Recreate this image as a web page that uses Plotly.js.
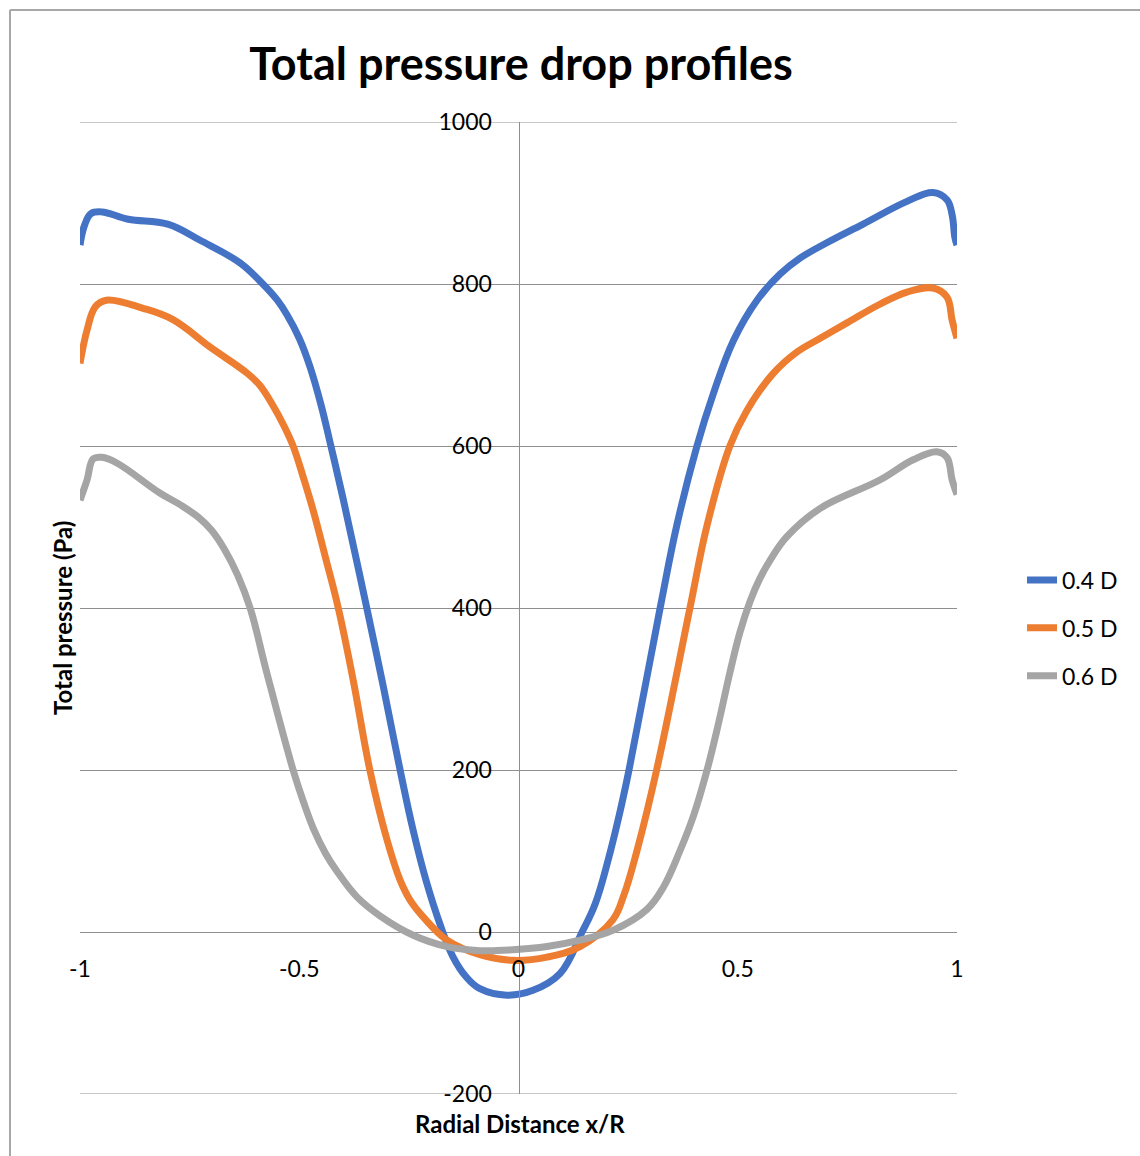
<!DOCTYPE html>
<html>
<head>
<meta charset="utf-8">
<script src="https://cdn.plot.ly/plotly-3.0.1.min.js"></script>
<style>
  html, body { margin: 0; padding: 0; background: #ffffff; }
  #chart { width: 1140px; height: 1156px; }
</style>
</head>
<body>
<div id="chart"></div>
<script>
// Total pressure across the radius at three downstream stations
const seriesNames = ['0.4 D', '0.5 D', '0.6 D'];
const seriesColors = ['#4472C4', '#ED7D31', '#A5A5A5'];

// 0.4 D
const x04 = [-1.0, -0.99, -0.975, -0.95, -0.89, -0.80, -0.726, -0.635, -0.583, -0.55, -0.528, -0.50, -0.475,
  -0.45, -0.43, -0.40, -0.346, -0.309, -0.27, -0.24, -0.21, -0.178, -0.15, -0.12, -0.088, -0.026, 0.033,
  0.095, 0.145, 0.175, 0.205, 0.23, 0.252, 0.323, 0.361, 0.407, 0.444, 0.49, 0.544, 0.596, 0.642, 0.70,
  0.786, 0.886, 0.945, 0.977, 0.989, 0.995, 1.0];
const p04 = [848, 872, 887, 889, 880, 874, 854, 826, 800, 780, 762, 733, 697,
  650, 605, 535, 400, 305, 200, 125, 62, 8, -30, -55, -70, -78, -72,
  -51, 0, 35, 90, 145, 200, 400, 502, 600, 664, 730, 780, 812, 832, 850,
  874, 902, 913, 904, 885, 858, 848];

// 0.5 D
const x05 = [-1.0, -0.984, -0.965, -0.94, -0.856, -0.788, -0.703, -0.619, -0.59, -0.56, -0.535, -0.514,
  -0.49, -0.468, -0.44, -0.411, -0.377, -0.339, -0.30, -0.27, -0.248, -0.218, -0.163, -0.088, -0.013, 0.065,
  0.14, 0.215, 0.24, 0.27, 0.315, 0.391, 0.43, 0.482, 0.52, 0.58, 0.635, 0.688, 0.749, 0.824, 0.886,
  0.945, 0.977, 0.989, 1.0];
const p05 = [702, 743, 772, 780, 770, 756, 722, 690, 675, 650, 625, 600,
  560, 520, 462, 400, 311, 200, 114, 64, 40, 19, -10, -28, -35, -31,
  -18, 15, 45, 100, 200, 400, 502, 600, 643, 689, 716, 733, 752, 775, 790,
  795, 784, 755, 733];

// 0.6 D
const x06 = [-1.0, -0.984, -0.97, -0.95, -0.916, -0.818, -0.77, -0.73, -0.70, -0.67, -0.64, -0.612, -0.574,
  -0.514, -0.49, -0.468, -0.44, -0.414, -0.368, -0.316, -0.24, -0.163, -0.088, -0.013, 0.065, 0.14, 0.215,
  0.293, 0.33, 0.368, 0.40, 0.43, 0.455, 0.482, 0.505, 0.528, 0.55, 0.575, 0.612, 0.688, 0.824, 0.90,
  0.954, 0.977, 0.989, 1.0];
const p06 = [533, 558, 584, 586, 579, 542, 527, 512, 496, 472, 440, 400, 320,
  200, 160, 128, 97, 75, 43, 20, -4, -18, -23, -22, -18, -10, 2,
  28, 55, 100, 145, 200, 255, 320, 370, 408, 436, 460, 488, 523, 558, 583,
  593, 586, 558, 540];

const xTickVals = [-1, -0.5, 0, 0.5, 1];
const xTickText = ['-1', '-0.5', '0', '0.5', '1'];
const yTickVals = [-200, 0, 200, 400, 600, 800, 1000];
const yTickText = ['-200', '0', '200', '400', '600', '800', '1000'];

const xRange = [-1, 1];
const yRange = [-200, 1000];

const xs = [x04, x05, x06];
const ps = [p04, p05, p06];

const FONT = 'Lato, "Open Sans", sans-serif';
const GRID = '#8f8f8f';
const FRAME = '#a8a8a8';

const traces = seriesNames.map((name, i) => ({
  type: 'scatter',
  mode: 'lines',
  name: name,
  legendgroup: name,
  x: xs[i],
  y: ps[i],
  line: { color: seriesColors[i], width: 7, shape: 'spline', smoothing: 1.1 },
  hoverinfo: 'x+y+name'
}));

// Plot area in pixels, used to place the frame and the axis titles
const M = { l: 80, r: 183, t: 122, b: 62 };
const W = 1140, H = 1156;
const PW = W - M.l - M.r, PH = H - M.t - M.b;
const px2x = (px) => (px - M.l) / PW;
const px2y = (py) => (H - M.b - py) / PH;

// grid lines at the two ends of the value range (the axis leaves them out)
const edgeGrid = [yRange[0], yRange[1]].map(v => ({
  type: 'line', xref: 'paper', yref: 'y', layer: 'below',
  x0: 0, x1: 1, y0: v, y1: v,
  line: { color: GRID, width: 1 }
}));

const layout = {
  width: W,
  height: H,
  autosize: false,
  margin: { l: M.l, r: M.r, t: M.t, b: M.b, pad: 0 },
  paper_bgcolor: '#ffffff',
  plot_bgcolor: '#ffffff',
  font: { family: FONT, size: 23, color: '#000000' },
  title: {
    text: 'Total pressure drop profiles',
    font: { family: FONT, size: 45, weight: 'bold', color: '#000000' },
    xref: 'container', x: 521 / W, xanchor: 'center',
    yref: 'container', y: 1 - 64 / H, yanchor: 'middle'
  },
  // axes cross at the origin
  xaxis: {
    range: xRange,
    anchor: 'free',
    position: (0 - yRange[0]) / (yRange[1] - yRange[0]),
    tickvals: xTickVals,
    ticktext: xTickText,
    ticks: '',
    ticklabelstandoff: 21,
    tickfont: { family: FONT, size: 23, color: '#000000' },
    showgrid: false,
    zeroline: false,
    showline: false,
    fixedrange: true
  },
  yaxis: {
    range: yRange,
    anchor: 'free',
    position: (0 - xRange[0]) / (xRange[1] - xRange[0]),
    side: 'left',
    tickvals: yTickVals,
    ticktext: yTickText,
    ticks: '',
    ticklabelstandoff: 22,
    tickfont: { family: FONT, size: 23, color: '#000000' },
    showgrid: true,
    gridcolor: GRID,
    gridwidth: 1,
    zeroline: false,
    showline: true,
    linecolor: GRID,
    linewidth: 1,
    fixedrange: true
  },
  annotations: [
    { text: 'Radial Distance x/R', xref: 'paper', yref: 'paper',
      x: px2x(520), y: px2y(1123), xanchor: 'center', yanchor: 'middle', showarrow: false,
      font: { family: FONT, size: 24, weight: 'bold', color: '#000000' } },
    { text: 'Total pressure (Pa)', xref: 'paper', yref: 'paper', textangle: -90,
      x: px2x(62), y: px2y(618), xanchor: 'center', yanchor: 'middle', showarrow: false,
      font: { family: FONT, size: 24, weight: 'bold', color: '#000000' } }
  ],
  showlegend: true,
  legend: {
    x: px2x(1022),
    xanchor: 'left',
    y: px2y(628),
    yanchor: 'middle',
    font: { family: FONT, size: 23, color: '#000000' },
    bgcolor: 'rgba(0,0,0,0)',
    borderwidth: 0,
    tracegroupgap: 15,
    traceorder: 'grouped'
  },
  shapes: edgeGrid.concat([
    { type: 'line', xref: 'paper', yref: 'paper', layer: 'below',
      x0: px2x(10), x1: px2x(10), y0: px2y(10), y1: px2y(1160),
      line: { color: FRAME, width: 2 } },
    { type: 'line', xref: 'paper', yref: 'paper', layer: 'below',
      x0: px2x(10), x1: px2x(1145), y0: px2y(10), y1: px2y(10),
      line: { color: FRAME, width: 2 } }
  ])
};

Plotly.newPlot('chart', traces, layout, { displayModeBar: false, staticPlot: true });
</script>
</body>
</html>
